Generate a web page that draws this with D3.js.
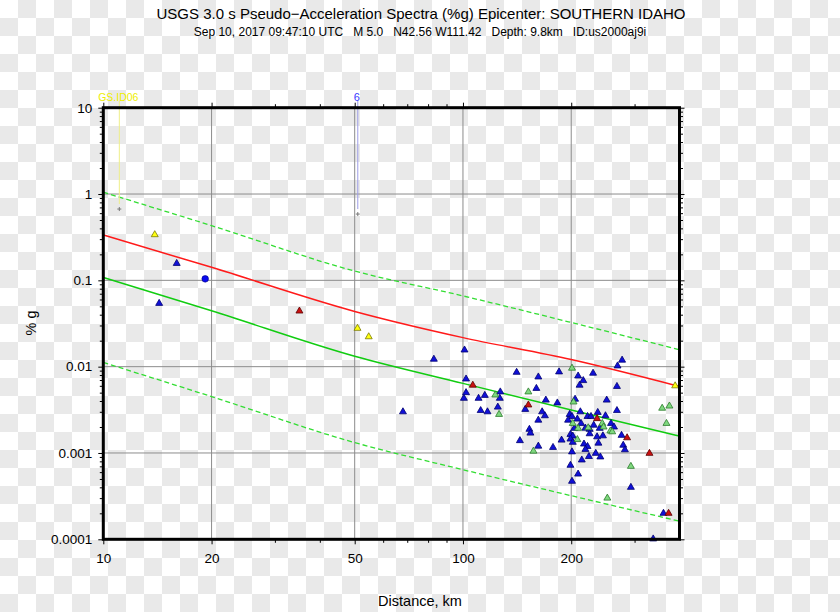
<!DOCTYPE html>
<html><head><meta charset="utf-8">
<script src="https://cdn.jsdelivr.net/npm/d3@7"></script>
<style>
body{margin:0;background:#fff;}
svg{display:block;}
text{font-family:"Liberation Sans", Arial, Helvetica, sans-serif;}
</style>
</head><body>
<svg id="chart" width="840" height="612"></svg>
<script>
// ---------- texts ----------
const titleText = "USGS 3.0 s Pseudo\u2212Acceleration Spectra (%g) Epicenter: SOUTHERN IDAHO";
const subtitleText = "Sep 10, 2017 09:47:10 UTC   M 5.0   N42.56 W111.42   Depth: 9.8km   ID:us2000aj9i";
const xAxisTitle = "Distance, km";
const yAxisTitle = "% g";

// ---------- ticks ----------
const xTickValues = [10, 20, 50, 100, 200];
const xTickLabels = ["10", "20", "50", "100", "200"];
const yTickValues = [10, 1, 0.1, 0.01, 0.001, 0.0001];
const yTickLabels = ["10", "1", "0.1", "0.01", "0.001", "0.0001"];

// ---------- model curves (distance km -> %g) ----------
const curveDist  = [10, 20, 50, 100, 200, 400];
const medianRed  = [0.335, 0.1415, 0.0436, 0.0217, 0.0121, 0.0059];
const gmpeGreen  = [0.108, 0.0444, 0.0132, 0.0064, 0.00315, 0.00157];
const gmpeUpper  = [1.05, 0.43, 0.128, 0.066, 0.0325, 0.0157];
const gmpeLower  = [0.0112, 0.0045, 0.00132, 0.00064, 0.00032, 0.000162];

// ---------- stations ----------
const blueDist = [16.0,14.3,83.0,101,141,102,102,100.6,110.5,115,127,126.6,125,112,117,68.1,149,144,153,162,185,209,230,277,269,216,211,160,268,170,183,205,251,166,169,162,198,201,212,222,227,237,249,268,208,196,213,258,231,263,204,219,225,240,154,199,202,225,236,245,276,188,199,202,238,217,162,178,222,279,282,219,201,234,224,241,214,199,209,201,293,361,338];
const blueVal  = [0.157,0.0541,0.0122,0.0156,0.0086,0.0072,0.0050,0.0043,0.0043,0.00465,0.0051,0.0043,0.0034,0.0031,0.0030,0.0030,0.0032,0.00139,0.00188,0.0076,0.0087,0.0078,0.0084,0.0119,0.0102,0.0069,0.0061,0.0056,0.0059,0.0041,0.0038,0.0042,0.0041,0.0030,0.0027,0.0024,0.0028,0.00265,0.0030,0.00265,0.00265,0.00295,0.0027,0.0031,0.00247,0.0024,0.0022,0.0022,0.0021,0.0020,0.00193,0.00194,0.00188,0.00193,0.0017,0.00164,0.00157,0.00167,0.00154,0.00158,0.0016,0.00141,0.00145,0.00133,0.0013,0.00127,0.0012,0.00116,0.00119,0.00123,0.00109,0.0011,0.00103,0.00099,0.00091,0.0009,0.00083,0.00072,0.00057,0.00047,0.0004,0.0002,0.000101];
const greenDist = [123,126,152,201,203,202,244,246,209,223,257,260,208,157,293,252,358,375,368];
const greenVal  = [0.0047,0.0028,0.0051,0.0096,0.0039,0.0022,0.0022,0.0020,0.00193,0.00196,0.0018,0.00176,0.00143,0.00105,0.0007,0.0003,0.0033,0.0035,0.0022];
const redDist = [35.1,106.5,152,236,286,330,373];
const redVal  = [0.0441,0.0061,0.0036,0.0025,0.0015,0.00099,0.0002];
const yellowDist = [13.9,50.9,54.7,389];
const yellowVal  = [0.338,0.0278,0.0222,0.0060];
const circleDist = [19.2];
const circleVal  = [0.104];
const plusDist = [11.08, 51.0];
const plusVal  = [0.67, 0.586];
const stationLabels = ["GS.ID06", "6"];
const stationLabelDist = [11.08, 51.0];

// ---------- drawing ----------
const svg = d3.select("#chart");
const W = 840, H = 612;
const pLeft = 103.3, pRight = 679.5, pTop = 107.7, pBottom = 539.3;

// checkerboard background
const defs = svg.append("defs");
const pat = defs.append("pattern").attr("id","checker").attr("width",36).attr("height",36)
  .attr("patternUnits","userSpaceOnUse");
pat.append("rect").attr("width",36).attr("height",36).attr("fill","#ffffff");
pat.append("rect").attr("x",18).attr("y",0).attr("width",18).attr("height",18).attr("fill","#e9e9e9");
pat.append("rect").attr("x",0).attr("y",18).attr("width",18).attr("height",18).attr("fill","#e9e9e9");
svg.append("rect").attr("width",W).attr("height",H).attr("fill","url(#checker)");

const x = d3.scaleLog().domain([10, 400]).range([pLeft, pRight]);
const y = d3.scaleLog().domain([0.0001, 10]).range([pBottom, pTop]);

// grid
const grid = svg.append("g").attr("stroke","#8c8c8c").attr("stroke-width",1);
xTickValues.filter(v => v > 10).forEach(v => {
  grid.append("line").attr("x1",x(v)).attr("x2",x(v)).attr("y1",pTop).attr("y2",pBottom);
});
yTickValues.filter(v => v < 10 && v > 0.0001).forEach(v => {
  grid.append("line").attr("x1",pLeft).attr("x2",pRight).attr("y1",y(v)).attr("y2",y(v));
});

// curves
const clip = defs.append("clipPath").attr("id","plotclip");
clip.append("rect").attr("x",pLeft).attr("y",pTop).attr("width",pRight-pLeft).attr("height",pBottom-pTop);
const line = d3.line().x(d => x(d[0])).y(d => y(d[1])).curve(d3.curveMonotoneX);
const curves = svg.append("g").attr("clip-path","url(#plotclip)").attr("fill","none");
function drawCurve(vals, color, dash, w) {
  curves.append("path").datum(curveDist.map((d,i) => [d, vals[i]]))
    .attr("d", line).attr("stroke", color).attr("stroke-width", w)
    .attr("stroke-dasharray", dash);
}
drawCurve(gmpeUpper, "#33dd33", "5,3", 1.3);
drawCurve(gmpeLower, "#33dd33", "5,3", 1.3);
drawCurve(gmpeGreen, "#11cc11", null, 1.5);
drawCurve(medianRed, "#ff1a1a", null, 1.5);

// station label sticks
const stickColors = ["#eeee88", "#9c9ce6"];
const labelColors = ["#eeee00", "#3a3aff"];
stationLabels.forEach((lab, i) => {
  const xp = x(stationLabelDist[i]);
  svg.append("line").attr("x1", xp).attr("x2", xp).attr("y1", pTop - 7).attr("y2", y(plusVal[i]) - 5)
    .attr("stroke", stickColors[i]).attr("stroke-width", 1);
  svg.append("text").attr("x", xp - 1).attr("y", 101).attr("text-anchor","middle")
    .attr("font-size", i === 0 ? "10.5px" : "11px").attr("fill", labelColors[i]).text(lab);
});

// plus markers
const plusG = svg.append("g").attr("stroke","#777").attr("stroke-width",1);
plusDist.forEach((d,i) => {
  const cx = x(d), cy = y(plusVal[i]);
  plusG.append("line").attr("x1",cx-2).attr("x2",cx+2).attr("y1",cy).attr("y2",cy);
  plusG.append("line").attr("x1",cx).attr("x2",cx).attr("y1",cy-2).attr("y2",cy+2);
});

// triangles
const tri = d3.symbol().type(d3.symbolTriangle).size(21);
function drawTriangles(ds, vs, fill, stroke) {
  svg.append("g").selectAll("path").data(ds.map((d,i) => [d, vs[i]])).join("path")
    .attr("d", tri)
    .attr("transform", d => `translate(${x(d[0])},${y(d[1])})`)
    .attr("fill", fill).attr("stroke", stroke).attr("stroke-width", 0.8);
}
drawTriangles(blueDist, blueVal, "#1010d8", "#00006e");
drawTriangles(greenDist, greenVal, "#7fd87f", "#2b7a2b");
drawTriangles(redDist, redVal, "#cc1010", "#5a0000");
drawTriangles(yellowDist, yellowVal, "#ffff10", "#7a7a00");

svg.append("g").selectAll("circle").data(circleDist.map((d,i)=>[d, circleVal[i]])).join("circle")
  .attr("cx", d => x(d[0])).attr("cy", d => y(d[1])).attr("r", 3.3)
  .attr("fill", "#0a0af0").attr("stroke", "#000080").attr("stroke-width", 0.6);

// axes ticks
const xMinor = x.ticks().filter(v => !xTickValues.includes(v) && v > 10 && v < 400);
const yMinor = y.ticks().filter(v => !yTickValues.some(t => Math.abs(t - v) / t < 1e-6));

function styleAxis(g) {
  g.select(".domain").remove();
  g.selectAll(".tick line").attr("stroke","#000").attr("stroke-width",1);
  g.selectAll(".tick text").attr("font-size","13.5px").attr("fill","#000")
    .attr("font-family","Liberation Sans, Arial, sans-serif");
}
// bottom
svg.append("g").attr("transform",`translate(0,${pBottom})`)
  .call(d3.axisBottom(x).tickValues(xTickValues).tickFormat((d,i)=>xTickLabels[i]).tickSize(5).tickPadding(9))
  .call(styleAxis);
svg.append("g").attr("transform",`translate(0,${pBottom})`)
  .call(d3.axisBottom(x).tickValues(xMinor).tickFormat("").tickSize(3.5)).call(styleAxis);
// top
svg.append("g").attr("transform",`translate(0,${pTop})`)
  .call(d3.axisTop(x).tickValues(xTickValues).tickFormat("").tickSize(5)).call(styleAxis);
svg.append("g").attr("transform",`translate(0,${pTop})`)
  .call(d3.axisTop(x).tickValues(xMinor).tickFormat("").tickSize(3.5)).call(styleAxis);
// left
svg.append("g").attr("transform",`translate(${pLeft},0)`)
  .call(d3.axisLeft(y).tickValues(yTickValues).tickFormat((d,i)=>yTickLabels[i]).tickSize(5).tickPadding(6))
  .call(styleAxis);
svg.append("g").attr("transform",`translate(${pLeft},0)`)
  .call(d3.axisLeft(y).tickValues(yMinor).tickFormat("").tickSize(3.5)).call(styleAxis);
// right
svg.append("g").attr("transform",`translate(${pRight},0)`)
  .call(d3.axisRight(y).tickValues(yTickValues).tickFormat("").tickSize(5)).call(styleAxis);
svg.append("g").attr("transform",`translate(${pRight},0)`)
  .call(d3.axisRight(y).tickValues(yMinor).tickFormat("").tickSize(3.5)).call(styleAxis);

// frame
svg.append("rect").attr("x",pLeft).attr("y",pTop).attr("width",pRight-pLeft).attr("height",pBottom-pTop)
  .attr("fill","none").attr("stroke","#000").attr("stroke-width",3);

// titles
svg.append("text").attr("x",421).attr("y",19).attr("text-anchor","middle")
  .attr("font-size","15px").attr("fill","#000").text(titleText);
svg.append("text").attr("x",420).attr("y",35.5).attr("text-anchor","middle")
  .attr("font-size","12px").attr("fill","#000").style("white-space","pre").text(subtitleText);
svg.append("text").attr("x",420).attr("y",606).attr("text-anchor","middle")
  .attr("font-size","14.5px").attr("fill","#000").text(xAxisTitle);
svg.append("text").attr("transform","translate(36,323) rotate(-90)").attr("text-anchor","middle")
  .attr("font-size","14.5px").attr("fill","#000").text(yAxisTitle);
</script>
</body></html>
